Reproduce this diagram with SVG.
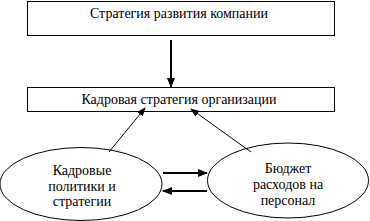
<svg xmlns="http://www.w3.org/2000/svg" width="370" height="221" viewBox="0 0 370 221">
<style>
.box{fill:#fff;stroke:#000;stroke-width:1}
.t{font-family:"Liberation Serif",serif;font-size:14px;fill:#000;text-anchor:middle}
.thin{stroke:#000;stroke-width:1;fill:none}
.thick{stroke:#000;stroke-width:2;fill:none}
</style>
<defs>
<marker id="ah" markerWidth="10" markerHeight="8" refX="9" refY="4" orient="auto" markerUnits="userSpaceOnUse"><path d="M0,0 L10,4 L0,8 Z" fill="#000"/></marker>
<marker id="ahs" markerWidth="9" markerHeight="7" refX="8" refY="3.5" orient="auto" markerUnits="userSpaceOnUse"><path d="M0,0 L9,3.5 L0,7 Z" fill="#000"/></marker>
</defs>
<rect width="370" height="221" fill="#fff"/>
<g id="n1"><rect class="box" x="27.5" y="1.5" width="307" height="34"/><text class="t" x="179" y="18">Стратегия развития компании</text></g>
<g id="n2"><rect class="box" x="27.5" y="87.5" width="307" height="24"/><text class="t" x="179" y="104">Кадровая стратегия организации</text></g>
<g id="n3"><ellipse class="box" cx="81" cy="184" rx="81" ry="36.5"/><text class="t" x="82" y="175">Кадровые</text><text class="t" x="82" y="191">политики и</text><text class="t" x="82" y="206">стратегии</text></g>
<g id="n4"><ellipse class="box" cx="288" cy="180.5" rx="80.5" ry="37.5"/><text class="t" x="288" y="173">Бюджет</text><text class="t" x="288" y="189">расходов на</text><text class="t" x="288" y="205">персонал</text></g>
<g id="edges">
<line class="thick" x1="171" y1="40" x2="171" y2="87" marker-end="url(#ah)"/>
<line class="thin" x1="109" y1="152" x2="145" y2="108" marker-end="url(#ahs)"/>
<line class="thin" x1="251" y1="152" x2="191" y2="109" marker-end="url(#ahs)"/>
<line class="thick" x1="163" y1="173" x2="207" y2="173" marker-end="url(#ah)"/>
<line class="thick" x1="207" y1="191" x2="163" y2="191" marker-end="url(#ah)"/>
</g>
</svg>
